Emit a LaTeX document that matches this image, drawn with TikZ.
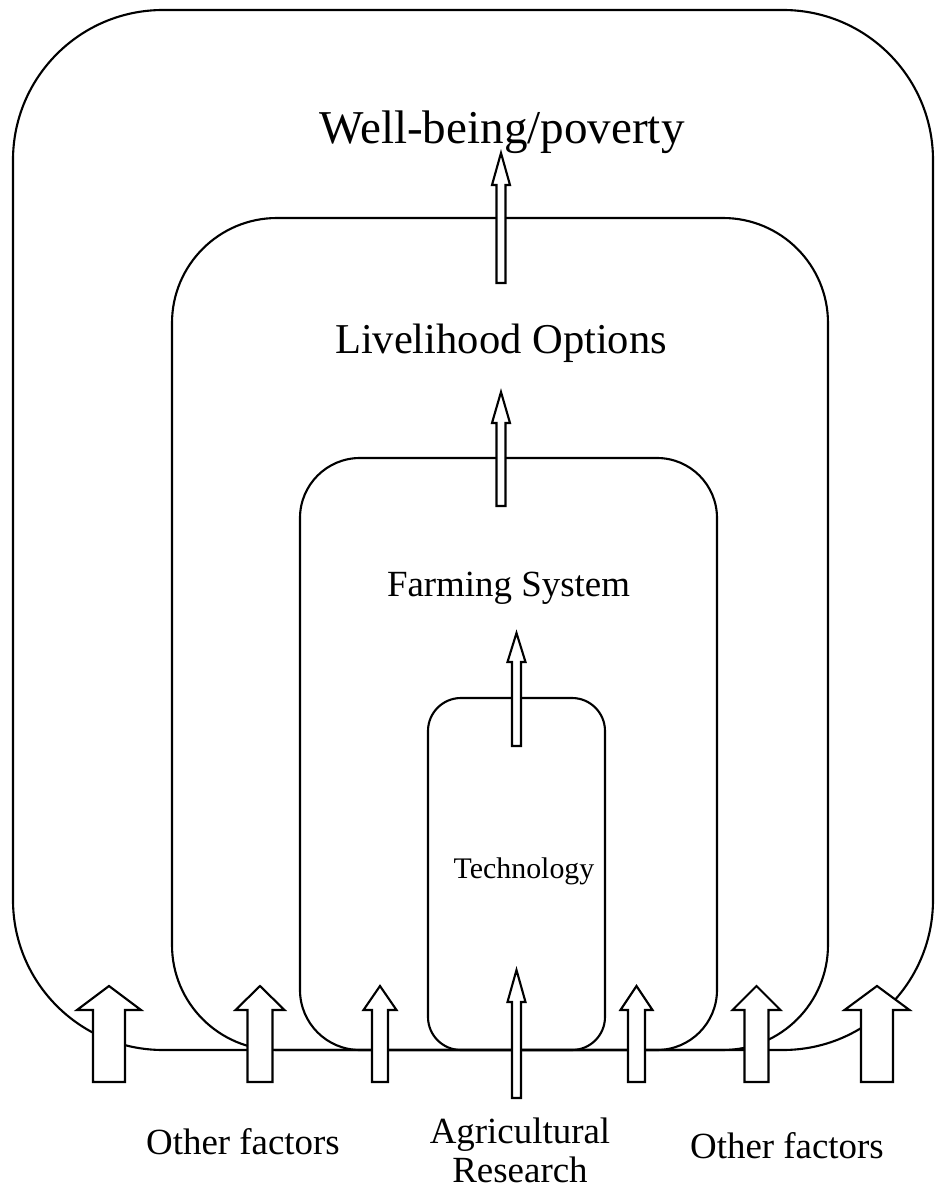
\documentclass[tikz,border=0pt]{standalone}
\usepackage{fontspec}
\setmainfont{Liberation Serif}
\begin{document}
\begin{tikzpicture}[line width=.6pt,
  blockarrow/.style={draw,fill=white,line join=miter},
  label/.style={anchor=base,inner sep=0pt}]
\useasboundingbox (0,0) rectangle (9.35,11.91);
% nested systems
\draw[rounded corners=1.5cm] (0.13,1.41) rectangle (9.33,11.81);
\draw[rounded corners=1.05cm] (1.72,1.41) rectangle (8.28,9.73);
\draw[rounded corners=0.6cm] (3.00,1.41) rectangle (7.17,7.33);
\draw[rounded corners=0.33cm] (4.28,1.41) rectangle (6.05,4.93);

\node[label,font=\fontsize{13.4}{16}\selectfont] (wellbeing) at (5.02,10.47) {Well-being/poverty};
\node[label,font=\fontsize{12.1}{14}\selectfont] (livelihood) at (5.01,8.37) {Livelihood Options};
\node[label,font=\fontsize{10.5}{12}\selectfont] (farming) at (5.085,5.94) {Farming System};
\node[label,font=\fontsize{8.5}{10}\selectfont] (technology) at (5.24,3.12) {Technology};

% thin arrows
\draw[blockarrow] (4.965,9.08) -- (4.965,10.06) -- (4.92,10.06) -- (5.01,10.38) -- (5.10,10.06) -- (5.055,10.06) -- (5.055,9.08) -- cycle;
\draw[blockarrow] (4.965,6.85) -- (4.965,7.68) -- (4.92,7.68) -- (5.01,7.99) -- (5.10,7.68) -- (5.055,7.68) -- (5.055,6.85) -- cycle;
\draw[blockarrow] (5.12,4.45) -- (5.12,5.29) -- (5.075,5.29) -- (5.165,5.58) -- (5.255,5.29) -- (5.21,5.29) -- (5.21,4.45) -- cycle;
\draw[blockarrow] (5.12,0.93) -- (5.12,1.89) -- (5.075,1.89) -- (5.165,2.21) -- (5.255,1.89) -- (5.21,1.89) -- (5.21,0.93) -- cycle;

% other factors
\draw[blockarrow] (0.93,1.09) -- (0.93,1.81) -- (0.77,1.81) -- (1.09,2.05) -- (1.41,1.81) -- (1.25,1.81) -- (1.25,1.09) -- cycle;
\draw[blockarrow] (2.475,1.09) -- (2.475,1.81) -- (2.355,1.81) -- (2.60,2.05) -- (2.845,1.81) -- (2.725,1.81) -- (2.725,1.09) -- cycle;
\draw[blockarrow] (3.72,1.09) -- (3.72,1.81) -- (3.635,1.81) -- (3.80,2.05) -- (3.965,1.81) -- (3.88,1.81) -- (3.88,1.09) -- cycle;
\draw[blockarrow] (6.28,1.09) -- (6.28,1.81) -- (6.205,1.81) -- (6.365,2.05) -- (6.525,1.81) -- (6.45,1.81) -- (6.45,1.09) -- cycle;
\draw[blockarrow] (7.445,1.09) -- (7.445,1.81) -- (7.325,1.81) -- (7.565,2.05) -- (7.805,1.81) -- (7.685,1.81) -- (7.685,1.09) -- cycle;
\draw[blockarrow] (8.61,1.09) -- (8.61,1.81) -- (8.445,1.81) -- (8.77,2.05) -- (9.095,1.81) -- (8.93,1.81) -- (8.93,1.09) -- cycle;

\node[label,font=\fontsize{10.5}{12}\selectfont] (otherleft) at (2.43,0.37) {Other factors};
\node[label,font=\fontsize{10.5}{11.2}\selectfont,align=center] (research) at (5.20,0.08) {Agricultural\\Research};
\node[label,font=\fontsize{10.5}{12}\selectfont] (otherright) at (7.87,0.33) {Other factors};
\end{tikzpicture}
\end{document}
